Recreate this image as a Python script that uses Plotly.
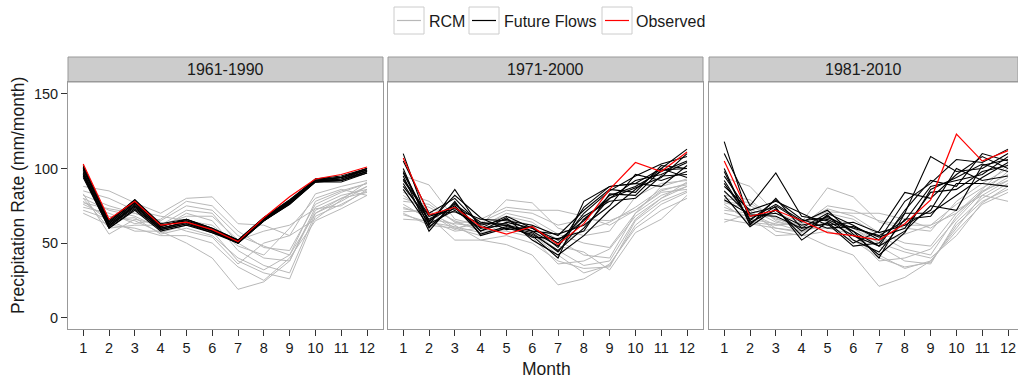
import plotly.graph_objects as go

months = list(range(1, 13))
month_labels = [str(m) for m in months]
periods = ["1961-1990", "1971-2000", "1981-2010"]

# ---- 1961-1990 ----
rcm_1961 = [
    [88, 85, 77, 70, 80, 81, 63, 62, 55, 83, 88, 92],
    [82, 75, 70, 65, 75, 72, 55, 48, 42, 78, 85, 90],
    [80, 72, 68, 60, 70, 65, 45, 35, 30, 70, 80, 88],
    [76, 68, 65, 57, 62, 58, 38, 30, 26, 68, 76, 85],
    [70, 62, 60, 55, 55, 50, 34, 25, 40, 65, 73, 82],
    [83, 56, 66, 62, 72, 70, 50, 40, 38, 74, 82, 86],
    [78, 65, 58, 58, 50, 40, 19, 24, 38, 72, 80, 84],
    [74, 70, 63, 66, 78, 75, 58, 47, 45, 76, 84, 90],
    [85, 80, 72, 68, 65, 62, 48, 42, 60, 80, 86, 82],
    [72, 66, 67, 56, 60, 55, 40, 32, 42, 70, 78, 88],
    [80, 60, 62, 62, 68, 68, 52, 58, 62, 73, 75, 86],
    [77, 73, 70, 64, 58, 54, 36, 50, 55, 66, 79, 91],
]
ff_1961 = [
    [102, 65, 79, 63, 66, 60, 52, 67, 79, 93, 95, 100],
    [100, 64, 78, 62, 65, 59, 51, 66, 78, 92, 94, 99],
    [98, 62, 76, 60, 64, 58, 50, 65, 77, 91, 93, 98],
    [96, 61, 74, 59, 63, 57, 50, 65, 76, 91, 92, 97],
    [95, 60, 72, 58, 62, 57, 51, 66, 77, 92, 92, 98],
    [101, 63, 77, 61, 66, 60, 52, 67, 78, 93, 94, 100],
    [97, 62, 75, 60, 64, 58, 51, 66, 77, 92, 93, 99],
    [99, 64, 79, 62, 65, 59, 52, 67, 79, 92, 94, 99],
    [94, 60, 73, 59, 63, 58, 50, 65, 76, 91, 91, 97],
    [100, 63, 77, 61, 66, 59, 51, 66, 78, 92, 94, 100],
    [96, 61, 75, 60, 64, 58, 50, 65, 77, 91, 92, 98],
]
obs_1961 = [103, 66, 78, 62, 64, 59, 51, 67, 81, 93, 96, 101]

# ---- 1971-2000 ----
rcm_1971 = [
    [95, 89, 66, 62, 79, 77, 60, 55, 58, 81, 90, 92],
    [78, 76, 64, 64, 72, 70, 62, 66, 65, 72, 85, 90],
    [71, 72, 60, 63, 68, 64, 52, 42, 40, 70, 88, 93],
    [66, 65, 58, 60, 63, 58, 45, 35, 38, 66, 80, 88],
    [82, 70, 62, 52, 55, 50, 38, 33, 34, 65, 78, 85],
    [74, 68, 52, 52, 49, 42, 22, 26, 36, 60, 72, 80],
    [80, 74, 65, 58, 66, 62, 48, 44, 32, 57, 66, 82],
    [76, 66, 63, 61, 70, 66, 56, 50, 47, 70, 82, 88],
    [69, 64, 61, 57, 60, 56, 42, 30, 35, 62, 76, 84],
    [73, 70, 59, 66, 74, 72, 72, 68, 62, 72, 84, 86],
    [84, 78, 64, 59, 58, 54, 36, 38, 46, 68, 80, 91],
    [70, 62, 60, 55, 64, 60, 50, 58, 64, 74, 86, 89],
]
ff_1971 = [
    [110, 62, 86, 60, 62, 55, 40, 78, 88, 90, 100, 113],
    [105, 70, 80, 62, 66, 58, 48, 70, 85, 95, 103, 108],
    [98, 65, 75, 58, 64, 60, 52, 65, 82, 88, 98, 105],
    [95, 58, 78, 55, 60, 56, 45, 60, 80, 92, 96, 104],
    [92, 68, 73, 66, 65, 62, 55, 72, 86, 84, 102, 100],
    [90, 63, 72, 60, 68, 60, 50, 68, 78, 80, 95, 96],
    [88, 66, 76, 64, 62, 58, 56, 62, 75, 96, 92, 98],
    [100, 60, 77, 58, 67, 52, 42, 55, 72, 86, 100, 94],
    [97, 64, 82, 67, 59, 61, 47, 74, 88, 90, 88, 102],
    [93, 69, 71, 63, 63, 54, 53, 58, 83, 82, 99, 100],
    [86, 61, 74, 56, 61, 57, 44, 66, 80, 87, 94, 110],
]
obs_1971 = [107, 69, 74, 61, 56, 61, 49, 63, 86, 104, 98, 111]

# ---- 1981-2010 ----
rcm_1981 = [
    [94, 88, 70, 64, 87, 81, 64, 60, 58, 78, 90, 100],
    [80, 77, 66, 62, 75, 72, 65, 62, 62, 76, 87, 96],
    [77, 73, 64, 61, 70, 66, 55, 46, 42, 68, 85, 92],
    [72, 70, 60, 58, 64, 60, 48, 38, 36, 64, 80, 90],
    [84, 72, 58, 55, 58, 52, 40, 34, 37, 62, 78, 86],
    [74, 67, 55, 56, 48, 42, 21, 27, 38, 58, 76, 84],
    [78, 75, 67, 59, 67, 62, 50, 44, 40, 55, 77, 88],
    [76, 64, 62, 63, 73, 68, 57, 50, 48, 70, 84, 94],
    [70, 66, 63, 58, 62, 58, 42, 33, 38, 60, 82, 92],
    [64, 70, 62, 64, 71, 70, 70, 66, 60, 72, 82, 78],
    [82, 79, 65, 60, 60, 56, 38, 40, 46, 66, 84, 98],
    [66, 63, 60, 57, 65, 60, 50, 56, 62, 70, 86, 103],
]
ff_1981 = [
    [118, 64, 72, 58, 68, 58, 40, 70, 108, 98, 100, 110],
    [110, 75, 97, 68, 65, 55, 48, 72, 92, 88, 110, 105],
    [100, 62, 80, 60, 70, 62, 52, 78, 90, 106, 104, 113],
    [95, 70, 74, 52, 64, 50, 58, 84, 80, 96, 108, 100],
    [90, 66, 76, 65, 67, 60, 55, 65, 88, 92, 96, 108],
    [88, 72, 78, 70, 62, 64, 57, 62, 72, 100, 92, 95],
    [85, 68, 70, 62, 66, 58, 48, 58, 75, 72, 102, 106],
    [82, 61, 73, 55, 69, 52, 44, 66, 68, 90, 90, 88],
    [92, 65, 79, 66, 60, 61, 54, 60, 84, 86, 98, 102],
    [79, 69, 68, 60, 63, 48, 50, 70, 70, 82, 94, 104],
    [98, 63, 75, 64, 72, 56, 42, 57, 86, 94, 103, 98],
]
obs_1981 = [105, 68, 72, 65, 57, 55, 52, 63, 79, 123, 105, 112]

y_ticks = [0, 50, 100, 150]

rcm_all = [rcm_1961, rcm_1971, rcm_1981]
ff_all = [ff_1961, ff_1971, ff_1981]
obs_all = [obs_1961, obs_1971, obs_1981]

W, H = 1018, 381
def px(x):
    return x / W
def py(y):
    return 1 - y / H

GRAY = "#B8B8B8"
FONT = "Liberation Sans, Arial, sans-serif"
TXT = "#1A1A1A"

panels_px = [(68, 383), (388, 703), (709, 1018)]
scale = 25.8  # px per month
plot_top, plot_bot = 82, 329
strip_top = 57

fig = go.Figure()
layout = dict(
    width=W, height=H,
    margin=dict(l=0, r=0, t=0, b=0),
    paper_bgcolor="white", plot_bgcolor="white",
    showlegend=False,
    font=dict(family=FONT, color=TXT, size=14),
)
shapes = []
annotations = []

for i, (x0, x1) in enumerate(panels_px):
    xa = "x" if i == 0 else f"x{i+1}"
    ya = "y" if i == 0 else f"y{i+1}"
    lo = 0.41
    hi = lo + (x1 - x0) / scale
    for r in rcm_all[i]:
        fig.add_trace(go.Scatter(x=months, y=r, mode="lines", name="RCM",
                                 line=dict(color=GRAY, width=1), xaxis=xa, yaxis=ya,
                                 hoverinfo="skip"))
    for f in ff_all[i]:
        fig.add_trace(go.Scatter(x=months, y=f, mode="lines", name="Future Flows",
                                 line=dict(color="black", width=1.1), xaxis=xa, yaxis=ya,
                                 hoverinfo="skip"))
    fig.add_trace(go.Scatter(x=months, y=obs_all[i], mode="lines", name="Observed",
                             line=dict(color="red", width=1.2), xaxis=xa, yaxis=ya,
                             hoverinfo="skip"))
    xkey = "xaxis" if i == 0 else f"xaxis{i+1}"
    ykey = "yaxis" if i == 0 else f"yaxis{i+1}"
    layout[xkey] = dict(
        domain=[px(x0), px(x1)], range=[lo, hi], anchor=ya,
        tickmode="array", tickvals=months, ticktext=month_labels,
        ticks="outside", ticklen=6, tickcolor="#333333", tickwidth=1,
        showline=True, linecolor="#999999", linewidth=1, mirror=True,
        showgrid=False, zeroline=False,
        tickfont=dict(size=14.5, color=TXT, family=FONT),
    )
    layout[ykey] = dict(
        domain=[py(plot_bot), py(plot_top)], range=[-7.6, 158], anchor=xa,
        tickmode="array", tickvals=y_ticks, ticktext=[str(v) for v in y_ticks],
        ticks="outside" if i == 0 else "", ticklen=6, tickcolor="#333333",
        showticklabels=(i == 0),
        showline=True, linecolor="#999999", linewidth=1, mirror=True,
        showgrid=False, zeroline=False,
        tickfont=dict(size=14.5, color=TXT, family=FONT),
    )
    # strip
    shapes.append(dict(type="rect", xref="paper", yref="paper",
                       x0=px(x0), x1=px(x1), y0=py(plot_top), y1=py(strip_top),
                       fillcolor="#CCCCCC", line=dict(color="#999999", width=1),
                       layer="below"))
    annotations.append(dict(text=periods[i], xref="paper", yref="paper",
                            x=px((x0 + min(x1, x0 + 315)) / 2), y=py((strip_top + plot_top) / 2 + 0.5),
                            showarrow=False, xanchor="center", yanchor="middle",
                            font=dict(size=16, color=TXT, family=FONT)))

# axis titles
annotations.append(dict(text="Month", xref="paper", yref="paper",
                        x=px(546), y=py(369), showarrow=False,
                        xanchor="center", yanchor="middle",
                        font=dict(size=17.5, color=TXT, family=FONT)))
annotations.append(dict(text="Precipitation Rate (mm/month)", xref="paper", yref="paper",
                        x=px(18), y=py(196), showarrow=False, textangle=-90,
                        xanchor="center", yanchor="middle",
                        font=dict(size=17.5, color=TXT, family=FONT)))

# legend (manual keys)
legend_items = [("RCM", GRAY, 394, 427), ("Future Flows", "black", 469, 502), ("Observed", "red", 602, 634)]
for label, col, bx, tx in legend_items:
    shapes.append(dict(type="rect", xref="paper", yref="paper",
                       x0=px(bx), x1=px(bx + 30), y0=py(34), y1=py(7),
                       line=dict(color="#CCCCCC", width=1), fillcolor="white"))
    shapes.append(dict(type="line", xref="paper", yref="paper",
                       x0=px(bx + 3), x1=px(bx + 27), y0=py(20.5), y1=py(20.5),
                       line=dict(color=col, width=1.2)))
    annotations.append(dict(text=label, xref="paper", yref="paper",
                            x=px(tx), y=py(22), showarrow=False,
                            xanchor="left", yanchor="middle",
                            font=dict(size=16, color=TXT, family=FONT)))

layout["shapes"] = shapes
layout["annotations"] = annotations
fig.update_layout(**layout)
fig.write_html("out.html")
